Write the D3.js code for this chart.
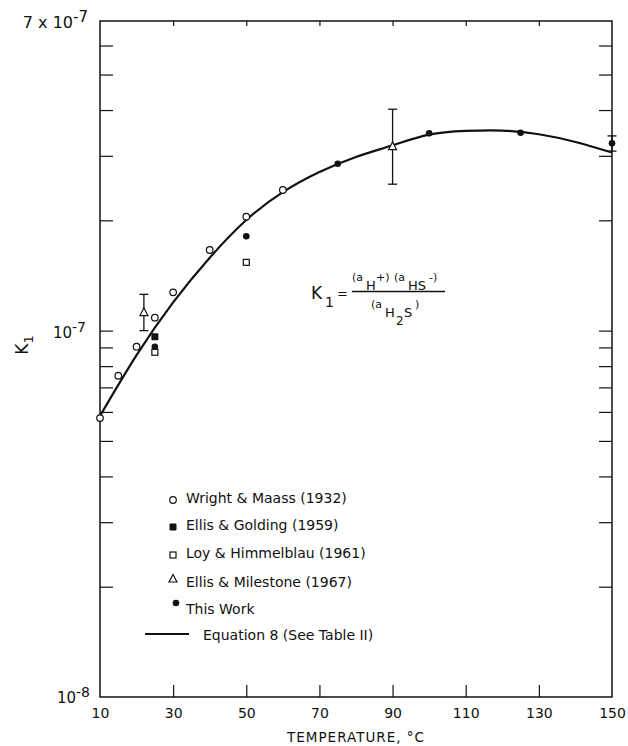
<!DOCTYPE html>
<html>
<head>
<meta charset="utf-8">
<script src="https://cdn.jsdelivr.net/npm/d3@7"></script>
<style>
  body { margin: 0; background: #fff; }
  svg text { font-family: "DejaVu Sans", sans-serif; fill: #111; }
</style>
</head>
<body>
<div id="chart"></div>
<script>
// ---- data ----
const curveT = [10, 20, 30, 40, 50, 60, 70, 80, 90, 100, 110, 120, 130, 140, 150];
const curveK = [5.85e-8, 8.57e-8, 1.194e-7, 1.581e-7, 2.004e-7, 2.388e-7, 2.710e-7, 2.979e-7,
                3.206e-7, 3.428e-7, 3.508e-7, 3.516e-7, 3.436e-7, 3.273e-7, 3.062e-7];

const wrightT = [10, 15, 20, 25, 30, 40, 50, 60];
const wrightK = [5.77e-8, 7.53e-8, 9.04e-8, 1.085e-7, 1.272e-7, 1.66e-7, 2.046e-7, 2.42e-7];

const goldingT = [25];
const goldingK = [9.62e-8];

const loyT = [25, 50];
const loyK = [8.73e-8, 1.536e-7];

const milestoneT = [22, 90];
const milestoneK = [1.12e-7, 3.18e-7];
const milestoneLo = [1.0e-7, 2.51e-7];
const milestoneHi = [1.256e-7, 4.02e-7];

const thisWorkT = [25, 50, 75, 100, 125, 150];
const thisWorkK = [9.04e-8, 1.81e-7, 2.855e-7, 3.455e-7, 3.467e-7, 3.245e-7];
const thisWorkErrT = [150];
const thisWorkLo = [3.09e-7];
const thisWorkHi = [3.40e-7];

const xTickLabels = [10, 30, 50, 70, 90, 110, 130, 150];
const xTickMarks = [30, 50, 70, 90, 110, 130];
const yTickMarks = [2e-8, 3e-8, 4e-8, 5e-8, 6e-8, 7e-8, 8e-8, 9e-8, 1e-7, 2e-7, 3e-7, 4e-7, 5e-7, 6e-7];

const legendLabels = ["Wright & Maass (1932)", "Ellis & Golding (1959)", "Loy & Himmelblau (1961)",
                      "Ellis & Milestone (1967)", "This Work", "Equation 8 (See Table II)"];
const legendMarks = ["openCircle", "filledSquare", "openSquare", "triangle", "filledCircle", "line"];

// ---- layout ----
const width = 628, height = 746;
const plot = { left: 100, right: 612, top: 21, bottom: 697 };

const svg = d3.select("#chart").append("svg")
    .attr("width", width)
    .attr("height", height);

const x = d3.scaleLinear().domain([10, 150]).range([plot.left, plot.right]);
const y = d3.scaleLog().domain([1e-8, 7e-7]).range([plot.bottom, plot.top]);

// frame
svg.append("rect")
    .attr("x", plot.left).attr("y", plot.top)
    .attr("width", plot.right - plot.left).attr("height", plot.bottom - plot.top)
    .attr("fill", "none").attr("stroke", "#111").attr("stroke-width", 1.5);

// ---- axes ----
svg.append("g")
    .attr("transform", `translate(0,${plot.bottom})`)
    .call(d3.axisBottom(x).tickValues(xTickMarks).tickSize(-12).tickFormat(""))
    .call(g => g.select(".domain").remove());
svg.append("g")
    .attr("transform", `translate(0,${plot.top})`)
    .call(d3.axisTop(x).tickValues(xTickMarks).tickSize(-5).tickFormat(""))
    .call(g => g.select(".domain").remove());
svg.append("g")
    .attr("transform", `translate(0,${plot.bottom})`)
    .call(d3.axisBottom(x).tickValues(xTickLabels).tickSize(0).tickPadding(11).tickFormat(d3.format("d")))
    .call(g => g.select(".domain").remove())
    .selectAll("text").style("font-size", "14px").attr("fill", "#111");

svg.append("g")
    .attr("transform", `translate(${plot.left},0)`)
    .call(d3.axisLeft(y).tickValues(yTickMarks).tickSize(-13).tickFormat(""))
    .call(g => g.select(".domain").remove());
svg.append("g")
    .attr("transform", `translate(${plot.right},0)`)
    .call(d3.axisRight(y).tickValues(yTickMarks).tickSize(-13).tickFormat(""))
    .call(g => g.select(".domain").remove());
svg.selectAll(".tick line").attr("stroke", "#111").attr("stroke-width", 1.2);

// y labels with exponents
function powerLabel(prefix, exp, yy, xEnd, size) {
    const t = svg.append("text")
        .attr("x", xEnd).attr("y", yy)
        .attr("text-anchor", "end")
        .style("font-size", size + "px");
    t.append("tspan").text(prefix);
    t.append("tspan").attr("dy", -6).style("font-size", (size - 1) + "px").text(exp);
}
powerLabel("7 x 10", "-7", 28, 88, 16);
powerLabel("10", "-7", 338, 86, 15);
powerLabel("10", "-8", 703, 90, 15);

svg.append("text")
    .attr("transform", `translate(28,345) rotate(-90)`)
    .attr("text-anchor", "middle")
    .style("font-size", "17px")
    .call(t => {
        t.append("tspan").text("K");
        t.append("tspan").attr("dy", 5).style("font-size", "13px").text("1");
    });

svg.append("text")
    .attr("x", (plot.left + plot.right) / 2).attr("y", 742)
    .attr("text-anchor", "middle")
    .style("font-size", "13.5px").style("letter-spacing", "1px")
    .text("TEMPERATURE, °C");

// ---- equation 8 curve ----
const curveData = curveT.map((t, i) => ({ t, k: curveK[i] }));
svg.append("path")
    .datum(curveData)
    .attr("fill", "none").attr("stroke", "#111").attr("stroke-width", 2.2)
    .attr("d", d3.line().x(d => x(d.t)).y(d => y(d.k)).curve(d3.curveNatural));

// ---- error bars ----
function errorBars(ts, lo, hi) {
    const data = ts.map((t, i) => ({ t, lo: lo[i], hi: hi[i] }));
    const g = svg.append("g").attr("stroke", "#111").attr("stroke-width", 1.3);
    g.selectAll(".eb").data(data).enter().append("line")
        .attr("x1", d => x(d.t)).attr("x2", d => x(d.t))
        .attr("y1", d => y(d.lo)).attr("y2", d => y(d.hi));
    g.selectAll(".cap-hi").data(data).enter().append("line")
        .attr("x1", d => x(d.t) - 4.5).attr("x2", d => x(d.t) + 4.5)
        .attr("y1", d => y(d.hi)).attr("y2", d => y(d.hi));
    g.selectAll(".cap-lo").data(data).enter().append("line")
        .attr("x1", d => x(d.t) - 4.5).attr("x2", d => x(d.t) + 4.5)
        .attr("y1", d => y(d.lo)).attr("y2", d => y(d.lo));
}
errorBars(milestoneT, milestoneLo, milestoneHi);
errorBars(thisWorkErrT, thisWorkLo, thisWorkHi);

// ---- markers ----
function drawMark(g, type, cx, cy) {
    if (type === "openCircle") {
        g.append("circle").attr("cx", cx).attr("cy", cy).attr("r", 3.3)
            .attr("fill", "#fff").attr("stroke", "#111").attr("stroke-width", 1.2);
    } else if (type === "filledCircle") {
        g.append("circle").attr("cx", cx).attr("cy", cy).attr("r", 3.3).attr("fill", "#111");
    } else if (type === "filledSquare") {
        g.append("rect").attr("x", cx - 3.5).attr("y", cy - 3.5).attr("width", 7).attr("height", 7)
            .attr("rx", 1).attr("fill", "#111");
    } else if (type === "openSquare") {
        g.append("rect").attr("x", cx - 3).attr("y", cy - 3).attr("width", 6).attr("height", 6)
            .attr("fill", "#fff").attr("stroke", "#111").attr("stroke-width", 1.2);
    } else if (type === "triangle") {
        g.append("path")
            .attr("d", `M${cx},${cy - 4.5}L${cx + 4},${cy + 3}L${cx - 4},${cy + 3}Z`)
            .attr("fill", "#fff").attr("stroke", "#111").attr("stroke-width", 1.2);
    }
}

function series(ts, ks, type) {
    const g = svg.append("g");
    ts.forEach((t, i) => drawMark(g, type, x(t), y(ks[i])));
}
series(wrightT, wrightK, "openCircle");
series(loyT, loyK, "openSquare");
series(milestoneT, milestoneK, "triangle");
series(thisWorkT, thisWorkK, "filledCircle");
series(goldingT, goldingK, "filledSquare");

// ---- equation text ----
const eq = svg.append("g");
eq.append("text").attr("x", 311).attr("y", 299).style("font-size", "17px").text("K");
eq.append("text").attr("x", 325).attr("y", 307).style("font-size", "14px").text("1");
eq.append("text").attr("x", 337).attr("y", 298).style("font-size", "13px").text("=");
eq.append("line").attr("x1", 352).attr("x2", 445).attr("y1", 291.5).attr("y2", 291.5)
    .attr("stroke", "#111").attr("stroke-width", 1.4);
const eqParts = [
    { s: "(a", x: 352, y: 281, f: 11 }, { s: "H", x: 366, y: 290, f: 13 }, { s: "+)", x: 376, y: 281, f: 11 },
    { s: "(a", x: 394, y: 281, f: 11 }, { s: "HS", x: 408, y: 290, f: 13 }, { s: "-)", x: 429, y: 281, f: 11 },
    { s: "(a", x: 371, y: 308, f: 11 }, { s: "H", x: 385, y: 317, f: 13 }, { s: "2", x: 396, y: 325, f: 12 },
    { s: "S", x: 404, y: 317, f: 13 }, { s: ")", x: 415, y: 308, f: 11 }
];
eq.selectAll(".part").data(eqParts).enter().append("text")
    .attr("x", d => d.x).attr("y", d => d.y)
    .style("font-size", d => d.f + "px")
    .text(d => d.s);

// ---- legend ----
const legendY = [503, 530, 558, 587, 614, 640];
const legend = svg.append("g");
legendLabels.forEach((label, i) => {
    const type = legendMarks[i];
    const by = legendY[i];
    if (type === "line") {
        legend.append("line").attr("x1", 145).attr("x2", 189).attr("y1", by - 6).attr("y2", by - 6)
            .attr("stroke", "#111").attr("stroke-width", 2.2);
        legend.append("text").attr("x", 203).attr("y", by).style("font-size", "14px").text(label);
    } else {
        const my = type === "triangle" ? by - 8 : (type === "filledCircle" ? by - 11 : by - 3);
        drawMark(legend, type, type === "filledCircle" ? 176 : 173, my);
        legend.append("text").attr("x", 186).attr("y", by).style("font-size", "14px").text(label);
    }
});
</script>
</body>
</html>
